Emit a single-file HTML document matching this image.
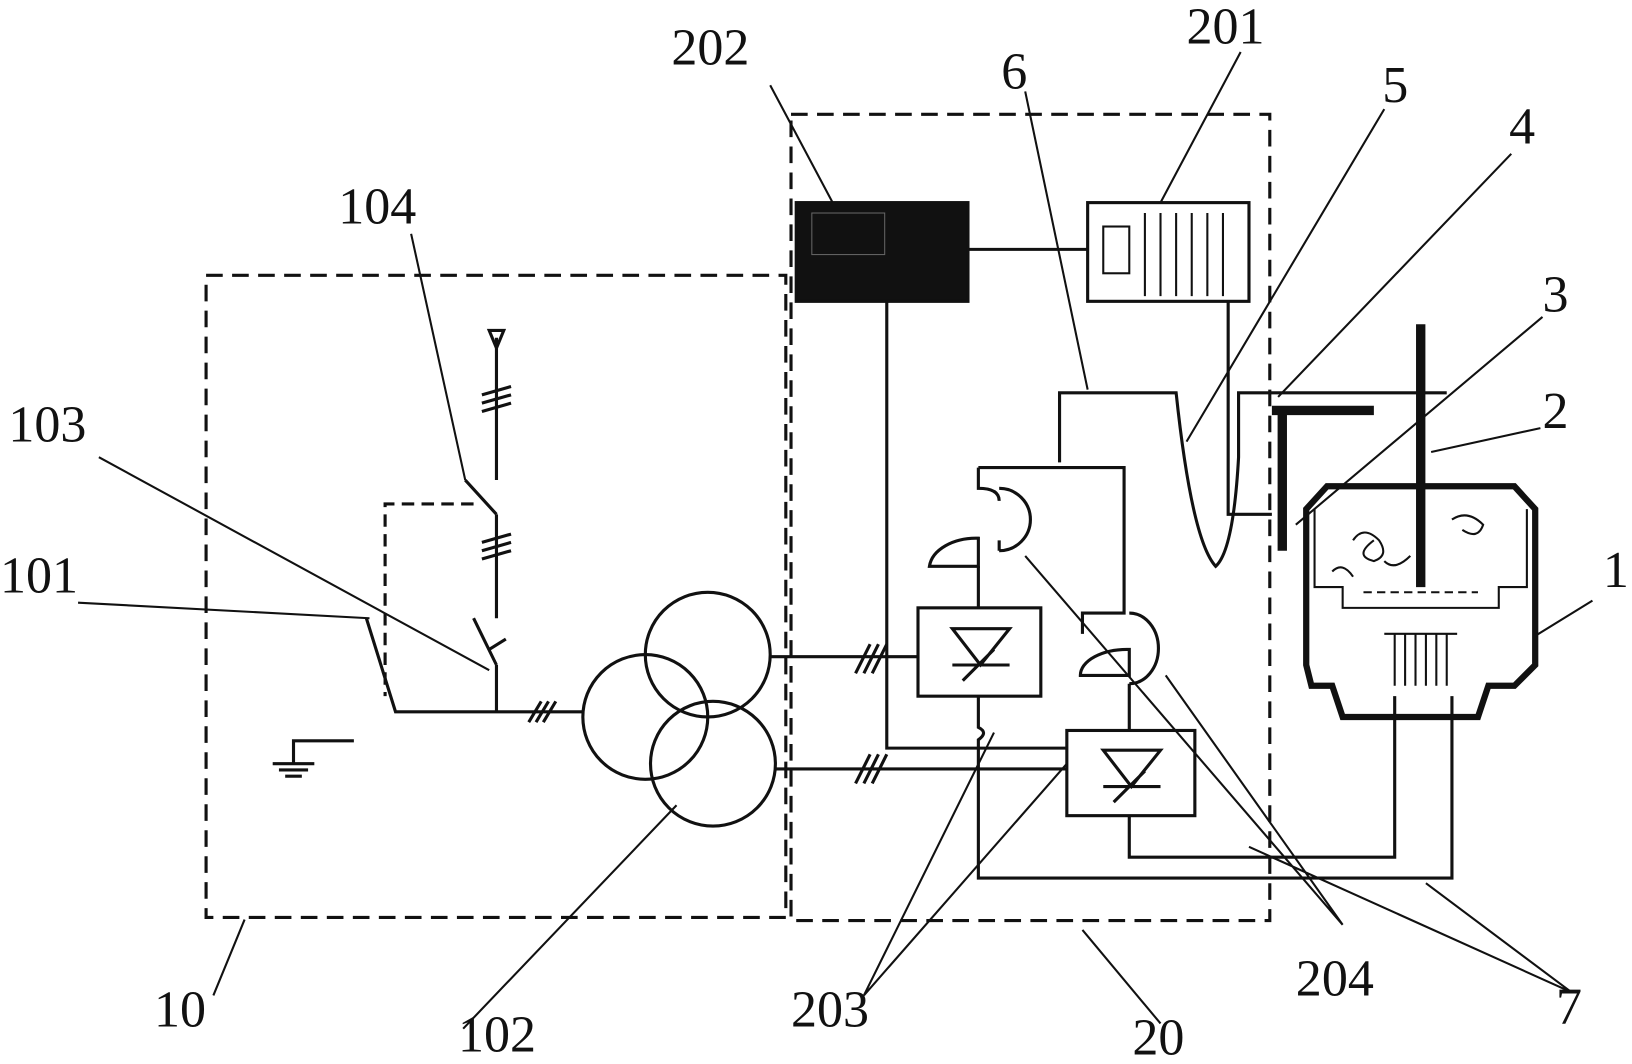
<!DOCTYPE html>
<html><head><meta charset="utf-8"><style>
html,body{margin:0;padding:0;background:#fff;}
svg{display:block}
text{font-family:"Liberation Serif",serif;font-size:50px;fill:#111}
</style></head><body>
<svg width="1632" height="1064" viewBox="0 0 1568 1024" preserveAspectRatio="none" xmlns="http://www.w3.org/2000/svg">
<g fill="none" stroke="#111" stroke-width="3">
<!-- dashed boxes -->
<rect x="198" y="265" width="557" height="618" stroke-dasharray="16,9"/>
<rect x="760" y="110" width="460" height="776" stroke-dasharray="16,9"/>
<path d="M455 485 H370 V670" stroke-dasharray="12,7"/>
<!-- ground -->
<path d="M340 713 H282 V735 M262 735 H302 M268 741 H296 M274 747 H290"/>
<!-- switch 101 -->
<path d="M352 595 L380 685 H560"/>
<!-- vertical feeder -->
<path d="M477 685 V640 M455 595 L477 640 M470 625 L486 615 M477 595 V495 M447 462 L477 495 M477 462 V325"/>
<path d="M470 318 L477 335 L484 318 Z" />
<path d="M463 380 L491 372 M463 388 L491 380 M463 396 L491 388"/>
<path d="M463 522 L491 514 M463 530 L491 522 M463 538 L491 530"/>
<path d="M508 695 L520 675 M515 695 L527 675 M522 695 L534 675"/>
<!-- transformer -->
<circle cx="680" cy="630" r="60"/>
<circle cx="620" cy="690" r="60"/>
<circle cx="685" cy="735" r="60"/>
<path d="M740 632 H882 M745 740 H1025"/>
<path d="M822 648 L836 620 M830 648 L844 620 M838 648 L852 620"/>
<path d="M822 754 L836 726 M830 754 L844 726 M838 754 L852 726"/>
<!-- thyristor boxes -->
<rect x="882" y="585" width="118" height="85"/>
<rect x="1025" y="703" width="123" height="82"/>
<path d="M915 605 H970 L942 640 Z M915 640 H970 M925 655 L955 625"/>
<path d="M1060 722 H1115 L1087 757 Z M1060 757 H1115 M1070 772 L1100 742"/>
<!-- control lines -->
<path d="M930 240 H1045 M852 290 V720 H1025 M1180 290 V495 H1222"/>
<!-- 202 box -->
<rect x="765" y="195" width="165" height="95" fill="#111"/>
<rect x="780" y="205" width="70" height="40" stroke="#666" stroke-width="1"/>
<!-- 201 box -->
<rect x="1045" y="195" width="155" height="95"/>
<rect x="1060" y="218" width="25" height="45" stroke-width="2"/>
<path d="M1100 205 V285 M1115 205 V285 M1130 205 V285 M1145 205 V285 M1160 205 V285 M1175 205 V285" stroke-width="2"/>
<!-- furnace body 6 -->
<path d="M1018 445 V378 H1130 Q1145 520 1168 545 Q1185 530 1190 440 V378 H1390"/>
<path d="M940 450 V470 Q960 470 960 482 M940 450 H1080 V590 H1040 V610"/>
<!-- semicircles 204 -->
<path d="M960 470 A25 25 0 0 1 960 530 M960 520 V530"/>
<path d="M893 545 A45 30 0 0 1 940 518 V545 Z"/>
<path d="M1085 590 A28 34 0 0 1 1085 658"/>
<path d="M1038 650 A45 25 0 0 1 1085 625 V650 Z"/>
<path d="M940 545 V585 M940 670 V700 Q950 705 940 712 V845 H1395 V670 M1085 658 V703 M1085 785 V825 H1340 V670"/>
<!-- electrodes -->
<path d="M1365 312 V565" stroke-width="9"/>
<path d="M1222 395 H1320 M1232 395 V530" stroke-width="9"/>
<!-- furnace 1 -->
<path d="M1255 490 L1275 468 H1455 L1475 490 V640 L1455 660 H1430 L1420 690 H1290 L1280 660 H1260 L1255 640 Z" stroke-width="6"/>
<path d="M1263 490 V565 H1290 V585 H1440 V565 H1467 V490" stroke-width="2"/>
<path d="M1340 610 V660 M1350 610 V660 M1360 610 V660 M1370 610 V660 M1380 610 V660 M1390 610 V660 M1330 610 H1400" stroke-width="2"/>
<path d="M1310 570 H1420" stroke-dasharray="8,5" stroke-width="2"/>
<path d="M1300 520 q10 -15 25 0 q10 15 -5 20 q-20 -5 0 -20 M1395 500 q15 -10 30 5 q-5 15 -20 5 M1330 540 q10 10 25 -5 M1280 550 q10 -10 20 5" stroke-width="2"/>
<!-- leader lines -->
<g stroke-width="2">
<path d="M740 82 L800 195 M1192 50 L1115 195 M985 88 L1045 375 M1330 105 L1140 425 M1452 148 L1228 382 M1482 305 L1245 505 M1480 412 L1375 435 M1530 578 L1475 612"/>
<path d="M395 225 L447 462 M95 440 L470 645 M75 580 L355 595 M205 958 L235 885 M445 990 L650 775"/>
<path d="M830 958 L955 705 M830 958 L1025 735 M1115 985 L1040 895 M1290 890 L985 535 M1290 890 L1120 650 M1510 955 L1200 815 M1510 955 L1370 850"/>
</g>
</g>
<text x="645" y="62">202</text>
<text x="1140" y="42">201</text>
<text x="962" y="85">6</text>
<text x="1328" y="98">5</text>
<text x="1450" y="138">4</text>
<text x="1482" y="300">3</text>
<text x="1482" y="412">2</text>
<text x="1540" y="565">1</text>
<text x="325" y="215">104</text>
<text x="8" y="425">103</text>
<text x="0" y="570">101</text>
<text x="148" y="988">10</text>
<text x="440" y="1012">102</text>
<text x="760" y="988">203</text>
<text x="1088" y="1015">20</text>
<text x="1245" y="958">204</text>
<text x="1495" y="985">7</text>
</svg>
</body></html>
